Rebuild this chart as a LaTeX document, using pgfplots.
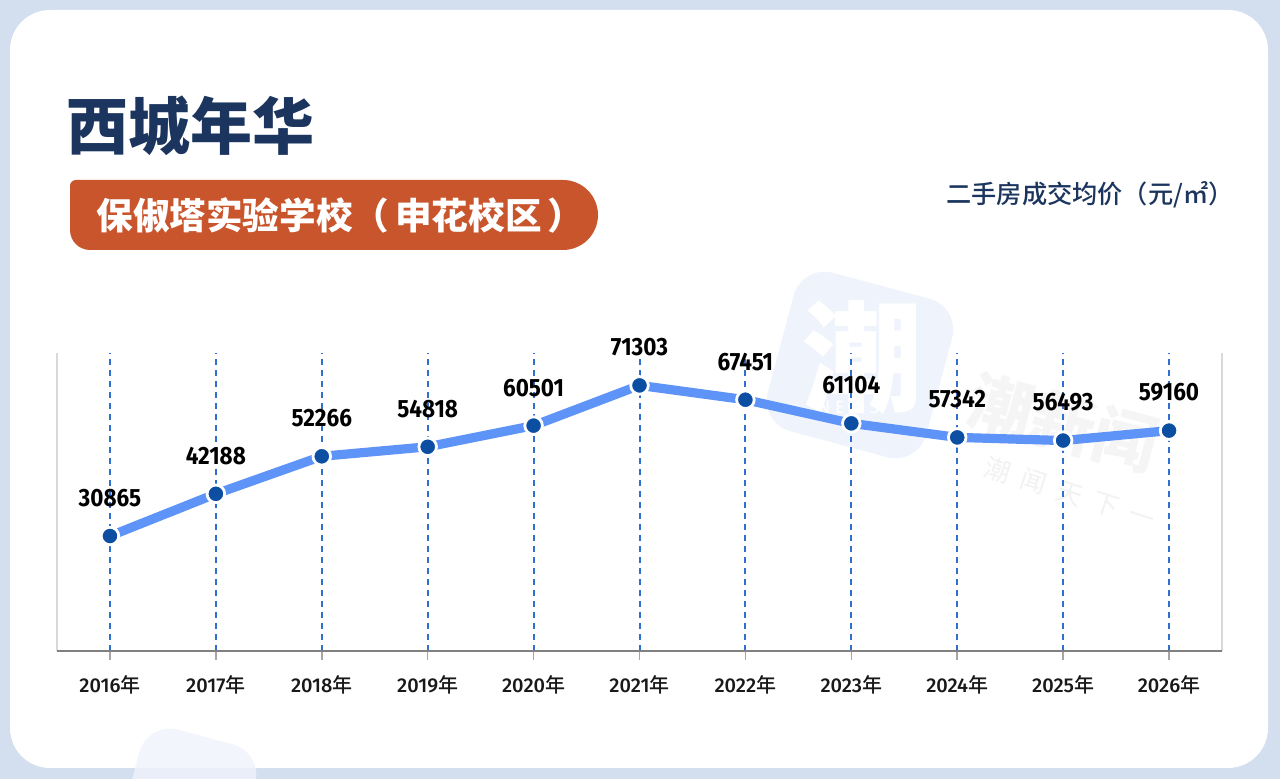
\documentclass[border=0pt]{standalone}
\usepackage{pgfplots}
\pgfplotsset{compat=1.18}
\usepackage{pgfplotstable}
\usepackage{graphicx}
\usepackage{fontspec}
\setmainfont{Fira Sans}
\newfontfamily\medfont{Fira Sans Medium}
\newfontfamily\cjk{Noto Sans CJK SC}
\newfontfamily\cjkmed{Noto Sans CJK SC Medium}
\newfontfamily\cjkblack{Noto Sans CJK SC Black}
\newcommand\nian{{\cjkmed 年}}
\definecolor{bgblue}{HTML}{D3DEEE}
\definecolor{navy}{HTML}{1B355E}
\definecolor{pill}{HTML}{C9552C}
\definecolor{gridblue}{HTML}{2E6FD1}
\definecolor{lineblue}{HTML}{5E93F7}
\definecolor{markblue}{HTML}{0B4EA2}
\definecolor{wmblue}{HTML}{EFF3FB}

\pgfplotstableread{
x y
0 30865
1 42188
2 52266
3 54818
4 60501
5 71303
6 67451
7 61104
8 57342
9 56493
10 59160
}\pricedata

\begin{document}
\begin{tikzpicture}
\path[use as bounding box] (0pt,0pt) rectangle (640pt,389.5pt);
\fill[bgblue] (0pt,0pt) rectangle (640pt,389.5pt);
\fill[white, rounded corners=20pt] (5pt,5.5pt) rectangle (634pt,384.5pt);

% watermarks
\begin{scope}[shift={(430pt,207pt)}, rotate=-15]
  \fill[wmblue, rounded corners=16pt] (-41pt,-41pt) rectangle (41pt,41pt);
  \node[text=white, font=\cjk\bfseries\fontsize{60}{60}\selectfont] at (0pt,4pt) {潮};
  \node[text=white, font=\fontsize{9}{9}\selectfont] at (0pt,-22pt) {N E W S};
\end{scope}
\begin{scope}
  \clip (0pt,0pt) rectangle (640pt,389.5pt);
  \begin{scope}[shift={(95pt,-8pt)}, rotate=-15]
    \fill[wmblue, opacity=0.8, rounded corners=16pt] (-30pt,-30pt) rectangle (30pt,30pt);
  \end{scope}
\end{scope}
\node[rotate=-15, text=black!4, font=\cjk\bfseries\fontsize{32}{32}\selectfont] at (532pt,178pt) {潮新闻};
\node[rotate=-18, text=black!5, font=\cjk\fontsize{13}{13}\selectfont] at (535pt,143pt) {潮\ \ 闻\ \ 天\ \ 下\ \ 一};

% title
\node[anchor=west, inner sep=0pt, text=navy, font=\cjkblack\fontsize{31}{31}\selectfont] at (33pt,326.5pt) {西城年华};
% pill
\fill[pill] (35pt,274.5pt) -- (35pt,296.5pt) arc[start angle=180,end angle=90,radius=3pt]
  -- (281.5pt,299.5pt) arc[start angle=90,end angle=-90,radius=17.5pt]
  -- (45pt,264.5pt) arc[start angle=270,end angle=180,radius=10pt] -- cycle;
\node[anchor=west, inner sep=0pt, text=white, font=\cjk\bfseries\fontsize{18.3}{18.3}\selectfont] at (48pt,282pt) {保俶塔实验学校（\,申花校区\,）};
% unit label
\node[anchor=east, inner sep=0pt, text=navy, font=\cjkmed\fontsize{12.6}{12.6}\selectfont] at (617pt,292pt) {二手房成交均价（元/㎡）};

\begin{axis}[
  at={(28.5pt,64pt)}, anchor=south west,
  scale only axis, width=582.5pt, height=149pt,
  xmin=-0.5, xmax=10.5, ymin=0, ymax=80000,
  clip=false,
  axis line style={draw=none},
  xtick={0,...,10},
  xtick pos=lower,
  xticklabels={2016\nian,2017\nian,2018\nian,2019\nian,2020\nian,2021\nian,2022\nian,2023\nian,2024\nian,2025\nian,2026\nian},
  ytick=\empty,
  tick align=outside,
  major tick length=4.5pt,
  xtick style={color=black!35, line width=0.8pt},
  xticklabel style={font=\medfont\fontsize{10}{12}\selectfont, text=black!90, yshift=-4pt},
  xmajorgrids,
  major grid style={gridblue, line width=1pt, dash pattern=on 3pt off 2.5pt},
]
\draw[black!15, line width=1pt] (rel axis cs:0,0) -- (rel axis cs:0,1);
\draw[black!15, line width=1pt] (rel axis cs:1,0) -- (rel axis cs:1,1);
\draw[black!50, line width=1pt] (rel axis cs:0,0) -- (rel axis cs:1,0);
\addplot[
  lineblue, line width=4.6pt,
  mark=*, mark size=4.4pt,
  mark options={fill=markblue, draw=white, line width=1.4pt},
  point meta=explicit symbolic,
  nodes near coords={\scalebox{0.9}[1]{\pgfplotspointmeta}},
  every node near coord/.append style={anchor=center, yshift=19pt, text=black, font=\bfseries\fontsize{12.5}{12.5}\selectfont},
] table[x=x, y=y, meta=y] {\pricedata};
\end{axis}
\end{tikzpicture}
\end{document}
